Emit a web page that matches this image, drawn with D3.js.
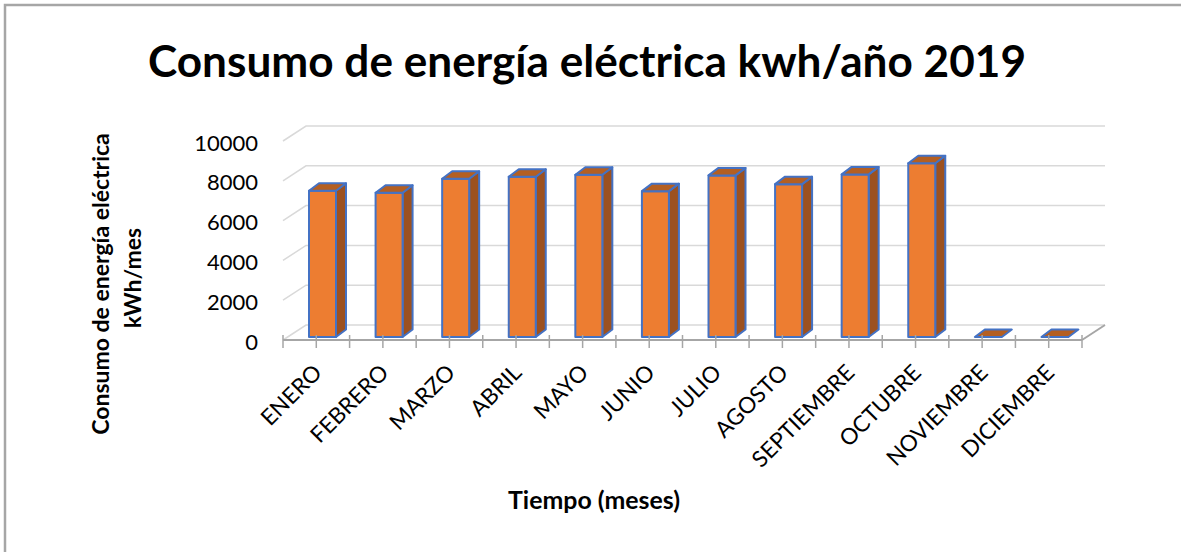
<!DOCTYPE html>
<html>
<head>
<meta charset="utf-8">
<script src="https://cdn.jsdelivr.net/npm/d3@7"></script>
<style>
  html, body { margin: 0; padding: 0; background: #fff; }
  svg { display: block; }
</style>
</head>
<body>
<svg id="chart" width="1181" height="552"></svg>
<script>
const months = ["ENERO","FEBRERO","MARZO","ABRIL","MAYO","JUNIO","JULIO","AGOSTO","SEPTIEMBRE","OCTUBRE","NOVIEMBRE","DICIEMBRE"];
const consumo = [7350, 7250, 7950, 8050, 8150, 7330, 8120, 7680, 8170, 8730, 0, 0];
const yTicks = [0, 2000, 4000, 6000, 8000, 10000];
const title = "Consumo de energía eléctrica kwh/año 2019";
const yTitle = ["Consumo de energía eléctrica", "kWh/mes"];
const xTitle = "Tiempo (meses)";

const svg = d3.select("#chart");
const font = "Lato, 'Open Sans', sans-serif";

// chart border (left and top visible)
svg.append("path").attr("d", "M5,552 L5,5 L1181,5")
  .attr("fill", "none").attr("stroke", "#a6a6a6").attr("stroke-width", 2.5);

// scales (front plane)
const x = d3.scaleBand().domain(months).range([283, 1082]);
const y = d3.scaleLinear().domain([0, 10000]).range([340, 141]);
const DX = 23, DY = -15;          // wall depth offset
const bDX = 10, bDY = -7.5;       // bar depth offset

// gridlines on back wall and left wall
const grid = svg.append("g");
yTicks.forEach(v => {
  grid.append("path")
    .attr("d", `M${x.range()[0]},${y(v)} L${x.range()[0] + DX},${y(v) + DY} L${x.range()[1] + DX},${y(v) + DY}`)
    .attr("fill", "none").attr("stroke", "#d9d9d9").attr("stroke-width", 1.5);
});
// floor right diagonal
svg.append("line")
  .attr("x1", x.range()[1]).attr("y1", y(0))
  .attr("x2", x.range()[1] + DX).attr("y2", y(0) + DY)
  .attr("stroke", "#a6a6a6").attr("stroke-width", 2);

// y tick labels
svg.append("g").selectAll("text").data(yTicks).join("text")
  .attr("x", 258).attr("y", d => y(d) + 4)
  .attr("text-anchor", "end").attr("dominant-baseline", "middle")
  .attr("font-family", font).attr("font-size", 22).attr("fill", "#000")
  .text(d => d);

// bars
const barW = 27, barOff = 26;
const bars = svg.append("g");
months.forEach((m, i) => {
  const x0 = x(m) + barOff, x1 = x0 + barW;
  const yb = y(0) - 3, yt = y(consumo[i]) - 3;
  const g = bars.append("g").attr("stroke", "#4472c4").attr("stroke-width", 2).attr("stroke-linejoin", "round");
  if (consumo[i] > 0) {
    g.append("polygon").attr("fill", "#9c5120")
      .attr("points", [[x1, yb], [x1 + bDX, yb + bDY], [x1 + bDX, yt + bDY], [x1, yt]].join(" "));
    g.append("polygon").attr("fill", "#ed7d31")
      .attr("points", [[x0, yb], [x1, yb], [x1, yt], [x0, yt]].join(" "));
  }
  g.append("polygon").attr("fill", "#b45f22")
    .attr("points", [[x0, yt], [x1, yt], [x1 + bDX, yt + bDY], [x0 + bDX, yt + bDY]].join(" "));
});

// x axis front line with ticks
const axis = svg.append("g");
axis.append("line")
  .attr("x1", x.range()[0]).attr("x2", x.range()[1])
  .attr("y1", y(0)).attr("y2", y(0))
  .attr("stroke", "#a6a6a6").attr("stroke-width", 2);
const tickXs = [];
months.forEach(m => { tickXs.push(x(m)); tickXs.push(x(m) + x.bandwidth() / 2); });
tickXs.push(x.range()[1]);
axis.selectAll("line.t").data(tickXs).join("line").attr("class", "t")
  .attr("x1", d => d).attr("x2", d => d)
  .attr("y1", y(0) - 5).attr("y2", y(0) + 8)
  .attr("stroke", "#a6a6a6").attr("stroke-width", 1.5);

// x labels rotated
svg.append("g").selectAll("text").data(months).join("text")
  .attr("transform", d => `translate(${x(d) + x.bandwidth() / 2 + 7},${y(0) + 34}) rotate(-45)`)
  .attr("text-anchor", "end")
  .attr("font-family", font).attr("font-size", 22.5).attr("fill", "#000")
  .text(d => d);

// title
svg.append("text")
  .attr("x", 587).attr("y", 77).attr("text-anchor", "middle")
  .attr("font-family", font).attr("font-weight", "bold").attr("font-size", 44)
  .attr("textLength", 878).attr("lengthAdjust", "spacingAndGlyphs")
  .attr("fill", "#000").text(title);

// y axis title
svg.append("text")
  .attr("transform", "translate(109,284) rotate(-90)")
  .attr("text-anchor", "middle")
  .attr("font-family", font).attr("font-weight", "bold").attr("font-size", 23)
  .attr("fill", "#000").text(yTitle[0]);
svg.append("text")
  .attr("transform", "translate(141,278) rotate(-90)")
  .attr("text-anchor", "middle")
  .attr("font-family", font).attr("font-weight", "bold").attr("font-size", 23)
  .attr("fill", "#000").text(yTitle[1]);

// x axis title
svg.append("text")
  .attr("x", 594).attr("y", 509).attr("text-anchor", "middle")
  .attr("font-family", font).attr("font-weight", "bold").attr("font-size", 24)
  .attr("textLength", 172).attr("lengthAdjust", "spacingAndGlyphs")
  .attr("fill", "#000").text(xTitle);
</script>
</body>
</html>
